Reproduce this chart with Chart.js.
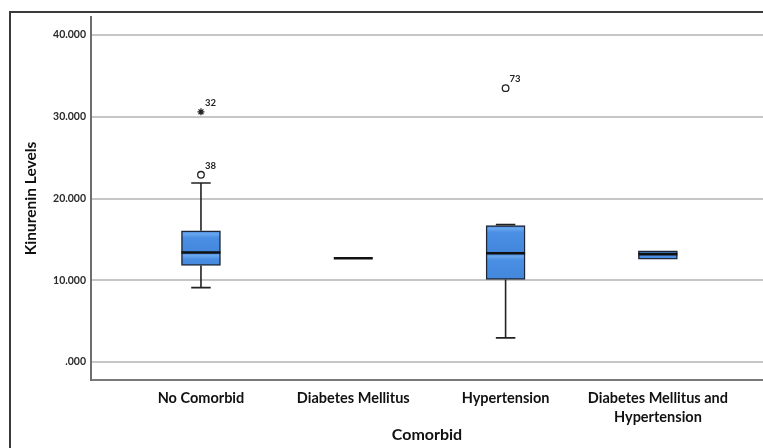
<!DOCTYPE html>
<html>
<head>
<meta charset="utf-8">
<script src="https://cdn.jsdelivr.net/npm/chart.js@4.4.0/dist/chart.umd.min.js"></script>
<style>
  html, body { margin: 0; padding: 0; background: #fff; overflow: hidden; }
  #frame {
    position: absolute; left: 9px; top: 11px; width: 900px; height: 600px;
    border-top: 2px solid #3a3a3a; border-left: 2px solid #3a3a3a;
  }
  #chart { position: absolute; left: 0; top: 0; }
</style>
</head>
<body>
<div id="frame"></div>
<canvas id="chart" width="763" height="448"></canvas>
<script>
const categories = ["No Comorbid", "Diabetes Mellitus", "Hypertension", ["Diabetes Mellitus and", "Hypertension"]];
const categoryPositions = [1, 2, 3, 4];

const whiskerLow = [9.1, null, 2.95, 12.57];
const q1 = [11.8, 12.69, 10.1, 12.57];
const median = [13.4, 12.69, 13.3, 13.2];
const q3 = [16.05, 12.69, 16.7, 13.6];
const whiskerHigh = [21.9, null, 16.8, 13.6];

const outlierCategory = [1, 3];
const outlierValues = [22.9, 33.5];
const outlierLabels = ["38", "73"];

const extremeCategory = [1];
const extremeValues = [30.6];
const extremeLabels = ["32"];

const yTicks = [0, 10, 20, 30, 40];

const BOX_HALF = 0.128;
const CAP_HALF = 0.064;
const FONT = "Lato, 'Open Sans', sans-serif";

function segment(x1, y1, x2, y2) {
  return [{ x: x1, y: y1 }, { x: x2, y: y2 }, { x: x2, y: null }];
}

const whiskerPoints = [];
categoryPositions.forEach((x, i) => {
  if (whiskerHigh[i] !== null && whiskerHigh[i] > q3[i]) {
    whiskerPoints.push(...segment(x, q3[i], x, whiskerHigh[i]));
    whiskerPoints.push(...segment(x - CAP_HALF, whiskerHigh[i], x + CAP_HALF, whiskerHigh[i]));
  }
  if (whiskerLow[i] !== null && whiskerLow[i] < q1[i]) {
    whiskerPoints.push(...segment(x, q1[i], x, whiskerLow[i]));
    whiskerPoints.push(...segment(x - CAP_HALF, whiskerLow[i], x + CAP_HALF, whiskerLow[i]));
  }
});

const medianPoints = [];
categoryPositions.forEach((x, i) => {
  medianPoints.push(...segment(x - BOX_HALF, median[i], x + BOX_HALF, median[i]));
});

const boxData = categoryPositions
  .map((x, i) => (q3[i] > q1[i] ? { x, y: [q1[i], q3[i]] } : null))
  .filter(Boolean);

// glossy SPSS-like fill: lighter band under the top edge and under the median
function boxFill(context) {
  const { chart, raw } = context;
  const yScale = chart.scales.y;
  if (!chart.chartArea || !raw || !yScale) return "#4a8fe3";
  const top = yScale.getPixelForValue(raw.y[1]);
  const bottom = yScale.getPixelForValue(raw.y[0]);
  const mid = yScale.getPixelForValue(median[raw.x - 1]);
  const h = bottom - top;
  if (!Number.isFinite(h) || h < 12) return "#4a8fe3";
  const f = (px) => Math.min(1, Math.max(0, px / h));
  const g = chart.ctx.createLinearGradient(0, top, 0, bottom);
  g.addColorStop(0, "#3f82d8");
  g.addColorStop(f(3), "#6aa7ef");
  g.addColorStop(f(7), "#4a8fe3");
  g.addColorStop(f(mid - top), "#4387dd");
  g.addColorStop(f(mid - top + 3), "#6aa7ef");
  g.addColorStop(f(mid - top + 7), "#4a8fe3");
  g.addColorStop(1, "#4387dd");
  return g;
}

const pointLabelPlugin = {
  id: "pointLabels",
  afterDatasetsDraw(chart) {
    const { ctx } = chart;
    chart.data.datasets.forEach((dataset, index) => {
      if (!dataset.pointLabels) return;
      const meta = chart.getDatasetMeta(index);
      ctx.save();
      ctx.fillStyle = "#222";
      ctx.font = `bold 9.5px ${FONT}`;
      ctx.textBaseline = "middle";
      meta.data.forEach((el, j) => {
        ctx.fillText(dataset.pointLabels[j], el.x + 4, el.y - 9);
      });
      ctx.restore();
    });
  },
};

new Chart(document.getElementById("chart"), {
  type: "bar",
  data: {
    datasets: [
      {
        type: "bar",
        data: boxData,
        backgroundColor: boxFill,
        borderColor: "#1e2838",
        borderWidth: 1.5,
        borderSkipped: false,
        barThickness: 39,
        order: 3,
      },
      {
        type: "scatter",
        data: whiskerPoints,
        showLine: true,
        spanGaps: false,
        borderColor: "#222",
        borderWidth: 1.6,
        pointRadius: 0,
        order: 2,
      },
      {
        type: "scatter",
        data: medianPoints,
        showLine: true,
        spanGaps: false,
        borderColor: "#111",
        borderWidth: 2.6,
        pointRadius: 0,
        order: 1,
      },
      {
        type: "scatter",
        data: outlierCategory.map((c, i) => ({ x: c, y: outlierValues[i] })),
        pointLabels: outlierLabels,
        pointStyle: "circle",
        pointRadius: 3.3,
        backgroundColor: "#fff",
        borderColor: "#222",
        borderWidth: 1.3,
        order: 0,
      },
      {
        type: "scatter",
        data: extremeCategory.map((c, i) => ({ x: c, y: extremeValues[i] })),
        pointLabels: extremeLabels,
        pointStyle: "star",
        pointRadius: 3.5,
        borderColor: "#222",
        borderWidth: 1.3,
        order: 0,
      },
    ],
  },
  options: {
    responsive: false,
    animation: false,
    devicePixelRatio: 1,
    layout: { autoPadding: false, padding: { top: 17, right: 0, left: 0, bottom: 0 } },
    plugins: {
      legend: { display: false },
      tooltip: { enabled: false },
    },
    scales: {
      x: {
        type: "linear",
        offset: false,
        min: 0.278,
        max: 4.69,
        afterFit: (scale) => { scale.height = 68; },
        afterBuildTicks: (scale) => { scale.ticks = categoryPositions.map((v) => ({ value: v })); },
        ticks: {
          autoSkip: false,
          maxRotation: 0,
          padding: 9,
          color: "#111",
          font: { family: FONT, weight: "bold", size: 14.5, lineHeight: 1.3 },
          callback: (v) => categories[v - 1],
        },
        grid: { display: false, drawTicks: false, offset: false },
        border: { display: true, color: "#7a7a7a", width: 2 },
        title: {
          display: true,
          text: "Comorbid",
          color: "#111",
          font: { family: FONT, weight: "bold", size: 16 },
          padding: { top: 0, bottom: 4 },
        },
      },
      y: {
        min: -2.2,
        max: 42.2,
        afterFit: (scale) => { scale.width = 91; },
        afterBuildTicks: (scale) => { scale.ticks = yTicks.map((v) => ({ value: v })); },
        ticks: {
          padding: 5,
          color: "#2a2a2a",
          font: { family: FONT, weight: "bold", size: 10.5 },
          callback: (v) => (v === 0 ? ".000" : v.toFixed(3)),
        },
        grid: { color: "#c6c6c6", lineWidth: 2, drawTicks: false },
        border: { display: true, color: "#6e6e6e", width: 2 },
        title: {
          display: true,
          text: "Kinurenin Levels",
          color: "#111",
          font: { family: FONT, weight: "bold", size: 15.5 },
          padding: { top: 22, bottom: 0 },
        },
      },
    },
  },
  plugins: [pointLabelPlugin],
});
</script>
</body>
</html>
